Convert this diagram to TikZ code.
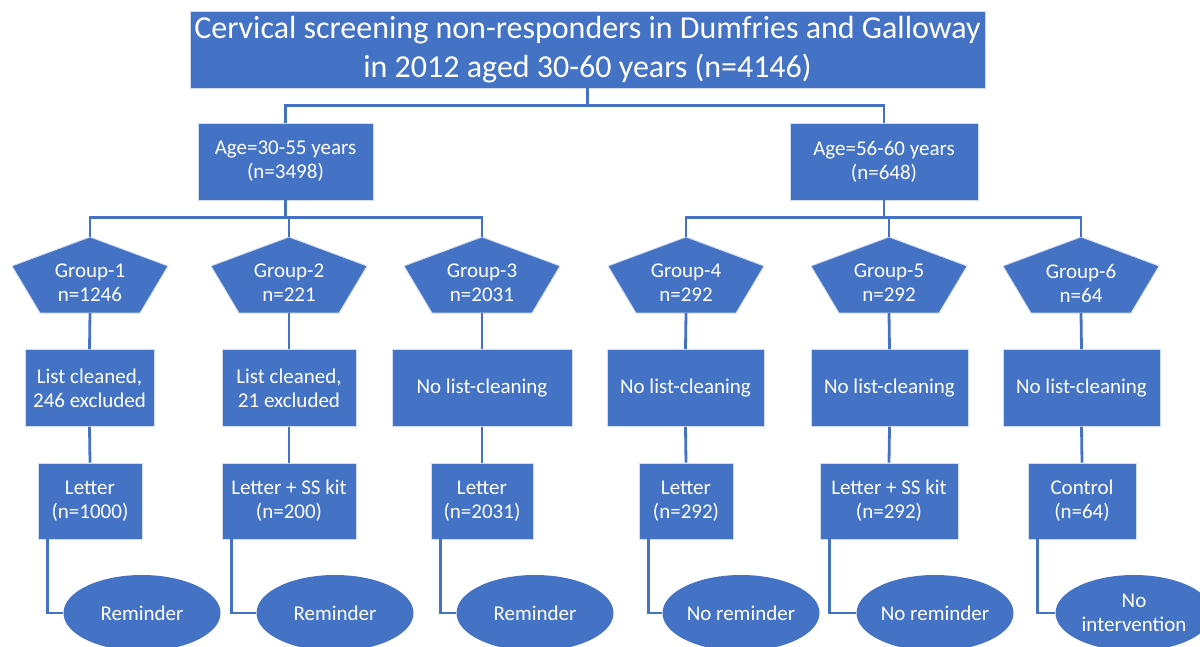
\documentclass[tikz,border=0pt]{standalone}
\usepackage{fontspec}
\setmainfont{Carlito}
\usetikzlibrary{shapes.geometric}
\definecolor{boxblue}{HTML}{4472C4}
\definecolor{lineblue}{HTML}{4472C4}

\begin{document}
\begin{tikzpicture}[x=1pt,y=-1pt]
    \useasboundingbox (0,0) rectangle (1200,647);
    \clip (0,0) rectangle (1200,647);
    \fill[white] (0,0) rectangle (1200,647);

    \begin{scope}[every node/.style={rectangle,fill=boxblue,draw=white!75!boxblue,line width=0.8pt,
        text=white,align=center,inner sep=0pt,minimum height=77,font=\fontsize{21}{24}\selectfont}]
      \node[minimum width=795,font=\fontsize{32}{39}\selectfont] (title) at (587.5,49.5)
        {Cervical screening non-responders in Dumfries and Galloway\\in 2012 aged 30-60 years (n=4146)};
      \node[minimum width=175] (ageL) at (285.5,161.5) {Age=30-55 years\\(n=3498)};
      \node[minimum width=188] (ageR) at (884,161.5) {Age=56-60 years\\(n=648)};

      \foreach \i/\x/\w/\t in {1/89.5/129/{List cleaned,\\246 excluded},2/289/134/{List cleaned,\\21 excluded},
          3/482/180/{No list-cleaning},4/685.5/157/{No list-cleaning},5/889.5/157/{No list-cleaning},
          6/1081.5/157/{No list-cleaning}}
        \node[minimum width=\w] (m\i) at (\x,388) {\t};

      \foreach \i/\x/\w/\t in {1/90/104/{Letter\\(n=1000)},2/289/134/{Letter + SS kit\\(n=200)},
          3/482/102/{Letter\\(n=2031)},4/686/94/{Letter\\(n=292)},5/889/138/{Letter + SS kit\\(n=292)},
          6/1082/108/{Control\\(n=64)}}
        \node[minimum width=\w,minimum height=76] (b\i) at (\x,501) {\t};

      \foreach \i/\x/\t in {1/142/Reminder,2/335/Reminder,3/535/Reminder,4/741/{No reminder},
          5/935/{No reminder},6/1134/{No\\intervention}}
        \node[ellipse,draw=none,minimum width=157,minimum height=76] (e\i) at (\x,613) {\t};
    \end{scope}

    \foreach \i/\x/\k in {1/90/1246,2/289/221,3/482/2031,4/686/292,5/889/292,6/1081/64} {
      \filldraw[fill=boxblue,draw=white!75!boxblue,line width=0.8pt]
        (\x,237) -- ++(78,29) -- ++(-28,47) -- ++(-100,0) -- ++(-28,-47) -- cycle;
      \node[text=white,align=center,inner sep=0pt,minimum width=155,minimum height=60,
        font=\fontsize{21}{24}\selectfont] (g\i) at (\x,283) {Group-\i\\n=\k};
    }

    \begin{scope}[line width=2.8pt,draw=lineblue]
      \draw (title.south) -- ++(0,17) -| (ageL.north);
      \draw (title.south) -- ++(0,17) -| (ageR.north);
      \foreach \i in {1,2,3}
        \draw (ageL.south) -- ++(0,17) -| ([yshift=16pt]g\i.north);
      \foreach \i in {4,5,6}
        \draw (ageR.south) -- ++(0,17) -| ([yshift=16pt]g\i.north);
      \foreach \i in {1,...,6} {
        \draw (g\i.south) -- (m\i.north);
        \draw (m\i.south) -- (b\i.north);
        \draw ([xshift=10pt]b\i.south west) |- (e\i.west);
      }
    \end{scope}
\end{tikzpicture}
\end{document}
